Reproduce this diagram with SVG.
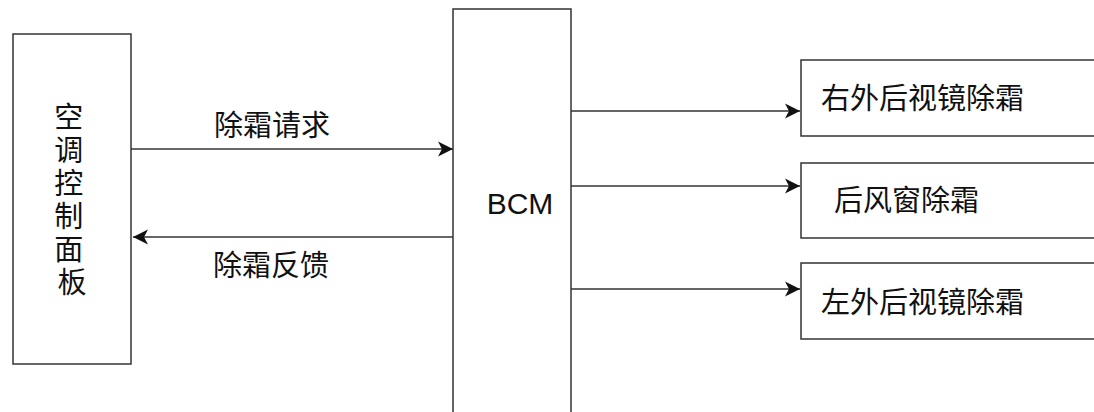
<svg xmlns="http://www.w3.org/2000/svg" width="1094" height="412" viewBox="0 0 1094 412">
<style>
.box{fill:#ffffff;stroke:#333333;stroke-width:1.5}
.ln{fill:none;stroke:#333333;stroke-width:1.5;marker-end:url(#arr)}
.cn{font-family:"Noto Sans CJK SC","Noto Sans",sans-serif;font-size:29px;fill:#111111}
.en{font-family:"Liberation Sans",Arial,sans-serif;font-size:30px;fill:#111111}
</style>
<defs>
<marker id="arr" markerUnits="userSpaceOnUse" viewBox="-16 -8 17 16" refX="0" refY="0" markerWidth="17" markerHeight="16" orient="auto">
<path d="M-15,-7.5 L0,0 L-15,7.5 L-11,0 Z" fill="#111111"/>
</marker>
</defs>
<rect width="1094" height="412" fill="#ffffff"/>
<g id="panel">
<rect class="box" x="13" y="34" width="118" height="330"/>
<text class="cn" text-anchor="middle">
<tspan x="72" y="128">空</tspan>
<tspan x="72" y="161">调</tspan>
<tspan x="72" y="194">控</tspan>
<tspan x="72" y="227">制</tspan>
<tspan x="72" y="260">面</tspan>
<tspan x="72" y="293">板</tspan>
</text>
</g>
<g id="bcm">
<rect class="box" x="453" y="9" width="118" height="420"/>
<text class="en" x="520" y="214" text-anchor="middle">BCM</text>
</g>
<g id="right-mirror">
<rect class="box" x="801" y="60" width="310" height="76"/>
<text class="cn" x="821" y="109">右外后视镜除霜</text>
</g>
<g id="rear-window">
<rect class="box" x="801" y="163" width="310" height="75"/>
<text class="cn" x="834" y="211">后风窗除霜</text>
</g>
<g id="left-mirror">
<rect class="box" x="801" y="263" width="310" height="76"/>
<text class="cn" x="821" y="313">左外后视镜除霜</text>
</g>
<g id="connectors">
<line class="ln" x1="131" y1="149" x2="453" y2="149"/>
<line class="ln" x1="453" y1="237" x2="133" y2="237"/>
<line class="ln" x1="571" y1="111" x2="800" y2="111"/>
<line class="ln" x1="571" y1="186" x2="800" y2="186"/>
<line class="ln" x1="571" y1="289" x2="800" y2="289"/>
<text class="cn" x="214" y="136">除霜请求</text>
<text class="cn" x="213" y="276">除霜反馈</text>
</g>
</svg>
